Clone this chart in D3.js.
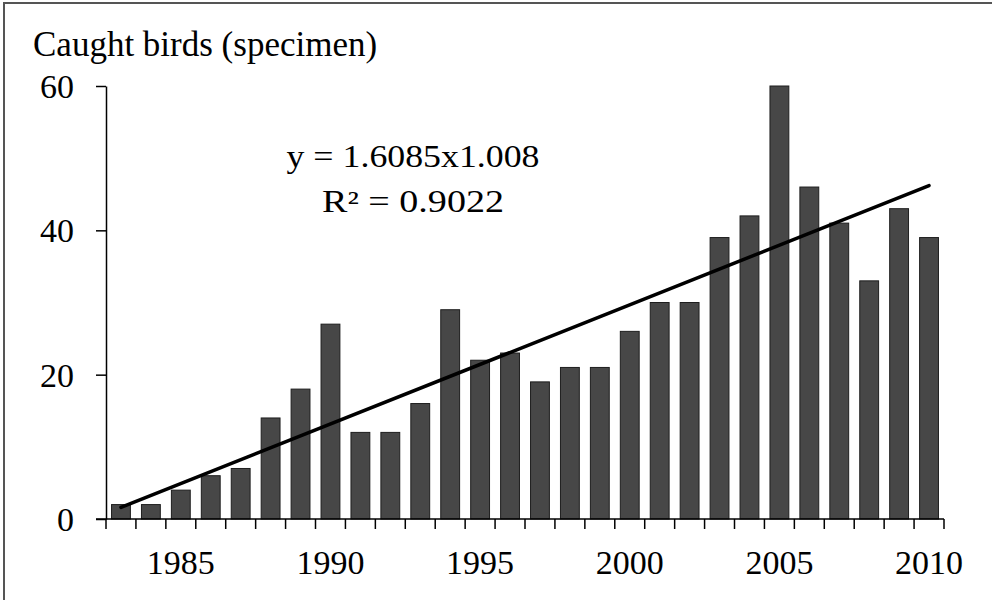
<html>
<script src="https://d3js.org/d3.v7.min.js"></script>
<style>
body { margin: 0; background: #fff; }
text { font-family: "Liberation Serif", "Times New Roman", serif; fill: #000; }
</style>
<body>
<svg width="992" height="600"></svg>
<script>
// data
var years = [1983,1984,1985,1986,1987,1988,1989,1990,1991,1992,1993,1994,1995,1996,
             1997,1998,1999,2000,2001,2002,2003,2004,2005,2006,2007,2008,2009,2010];
var caught = [2,2,4,6,7,14,18,27,12,12,16,29,22,23,
              19,21,21,26,30,30,39,42,60,46,41,33,43,39];
var yTicks = [0,20,40,60];
var xLabels = [1985,1990,1995,2000,2005,2010];
var trendYears = [1983,2010];
var trendValues = [1.6,46.2];
var equation = ["y = 1.6085x1.008", "R\u00B2 = 0.9022"];

var svg = d3.select("svg");

// frame around the picture
svg.append("rect")
  .attr("x", 4).attr("y", 3).attr("width", 1000).attr("height", 610)
  .attr("fill", "none").attr("stroke", "#555").attr("stroke-width", 2);

var plotLeft = 106, plotRight = 944, plotTop = 86, plotBottom = 519;

var xs = d3.scaleBand().domain(years).range([plotLeft, plotRight]).paddingInner(0.37).paddingOuter(0.185);
var xb = d3.scaleBand().domain(years).range([plotLeft, plotRight]);
var ys = d3.scaleLinear().domain([0, 60]).range([plotBottom, plotTop]);

// bars
svg.append("g").selectAll("rect").data(years).enter().append("rect")
  .attr("x", function(d) { return xs(d); })
  .attr("y", function(d, i) { return ys(caught[i]); })
  .attr("width", xs.bandwidth())
  .attr("height", function(d, i) { return plotBottom - ys(caught[i]); })
  .attr("fill", "#474747")
  .attr("stroke", "#1e1e1e")
  .attr("stroke-width", 1);

// y axis
var yAxis = svg.append("g").attr("transform", "translate(" + plotLeft + ",0)")
  .call(d3.axisLeft(ys).tickValues(yTicks).tickSize(10).tickPadding(22).tickSizeOuter(0));
yAxis.select(".domain").attr("stroke", "#000").attr("stroke-width", 1.5);
yAxis.selectAll(".tick line").attr("stroke", "#000").attr("stroke-width", 1.5);
yAxis.selectAll("text").style("font-size", "34px").attr("dy", "0.34em");

// x axis: ticks on band boundaries
var xg = svg.append("g").attr("transform", "translate(0," + plotBottom + ")");
xg.append("line").attr("x1", plotLeft - 10).attr("x2", plotRight).attr("stroke", "#000").attr("stroke-width", 1.5);
xg.selectAll("line.tk").data(years.concat([2011])).enter().append("line")
  .attr("class", "tk")
  .attr("x1", function(d, i) { return plotLeft + i * xb.step(); })
  .attr("x2", function(d, i) { return plotLeft + i * xb.step(); })
  .attr("y1", 0).attr("y2", 10)
  .attr("stroke", "#000").attr("stroke-width", 1.5);
xg.selectAll("text").data(xLabels).enter().append("text")
  .attr("x", function(d) { return xb(d) + xb.bandwidth() / 2; })
  .attr("y", 55)
  .attr("text-anchor", "middle")
  .style("font-size", "34px")
  .text(function(d) { return d; });

// trend line
var line = d3.line()
  .x(function(d, i) { return xb(trendYears[i]) + xb.bandwidth() / 2; })
  .y(function(d) { return ys(d); });
svg.append("path").datum(trendValues)
  .attr("d", line)
  .attr("fill", "none").attr("stroke", "#000").attr("stroke-width", 3.5).attr("stroke-linecap", "round");

// equation
svg.selectAll("text.eq").data(equation).enter().append("text")
  .attr("class", "eq")
  .attr("x", 413)
  .attr("y", function(d, i) { return 167 + i * 45; })
  .attr("text-anchor", "middle")
  .attr("textLength", function(d, i) { return i === 0 ? 253 : 182; })
  .attr("lengthAdjust", "spacingAndGlyphs")
  .style("font-size", "31px")
  .text(function(d) { return d; });

// axis title
svg.append("text")
  .attr("x", 33).attr("y", 56)
  .style("font-size", "35px")
  .text("Caught birds (specimen)");
</script>
</body>
</html>
